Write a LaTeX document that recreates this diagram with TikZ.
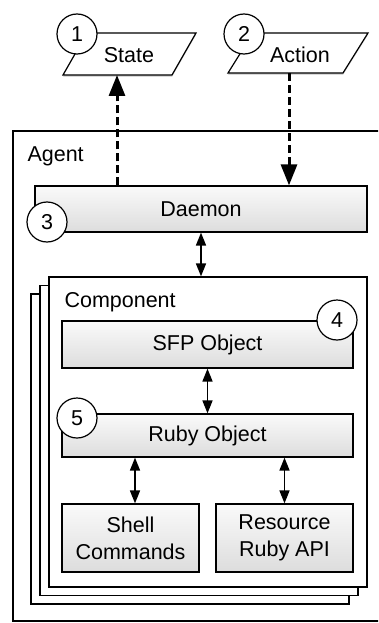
\documentclass[tikz,border=0pt]{standalone}
\usepackage{fontspec}
\setmainfont{Liberation Sans}
\usetikzlibrary{arrows.meta,calc}

\tikzset{
  every node/.style={font=\fontsize{21.5}{27}\selectfont},
  shadedbox/.style={draw=black, line width=1.2pt, top color=gray!4, bottom color=gray!27,
    inner sep=0pt, align=center},
  plainbox/.style={draw=black, line width=1.2pt, fill=white, inner sep=0pt},
  para/.style={draw=black, line width=1.2pt, fill=white},
  parashadow/.style={fill=black!15, draw=none},
  badge/.style={circle, draw=black, line width=1.2pt, fill=white, minimum size=40pt, inner sep=0pt},
  flow/.style={line width=3pt, dash pattern=on 8pt off 4pt,
    -{Triangle[length=21pt,width=16pt]}},
  link/.style={line width=1.5pt,
    {Triangle[length=13pt,width=10pt]}-{Triangle[length=13pt,width=10pt]}},
}

\begin{document}
\begin{tikzpicture}[x=1pt,y=-1pt]
\useasboundingbox (0,0) rectangle (378,623);
\clip (0,0) rectangle (378,623);

% agent frame
\draw[line width=1.2pt] (13,131) rectangle (390,621);
\node[anchor=base west] (agentlbl) at (24,161) {Agent};

% external state / action parallelograms
\fill[parashadow] (63,77) -- (87,35) -- (196,35) -- (172,77) -- cycle;
\draw[para] (63,75) -- (87,33) -- (196,33) -- (172,75) -- cycle;
\node (state) at (129,55) {State};
\coordinate (stateb) at (117,75);

\fill[parashadow] (228,75) -- (253,35) -- (368,35) -- (343,75) -- cycle;
\draw[para] (228,73) -- (253,33) -- (368,33) -- (343,73) -- cycle;
\node (action) at (300,55) {Action};
\coordinate (actionb) at (289,73);

% daemon
\node[shadedbox, minimum width=332pt, minimum height=46pt] (daemon) at (201,209) {Daemon};

% stacked components
\node[plainbox, minimum width=318pt, minimum height=310pt] (comp3) at (190,449) {};
\node[plainbox, minimum width=318pt, minimum height=310pt] (comp2) at (199,440.5) {};
\node[plainbox, minimum width=318pt, minimum height=310pt] (comp) at (208,432) {};
\node[anchor=base west] (complbl) at (61,307) {Component};

% objects inside the component
\node[shadedbox, minimum width=291pt, minimum height=47pt] (sfp) at (207.5,344.5) {SFP Object};
\node[shadedbox, minimum width=291pt, minimum height=43pt] (ruby) at (207.5,435.5) {Ruby Object};
\node[shadedbox, minimum width=137pt, minimum height=68pt] (shell) at (130.5,538) {Shell\\Commands};
\node[shadedbox, minimum width=137pt, minimum height=68pt] (res) at (284.5,538) {Resource\\Ruby API};

% connectors
\draw[flow] (daemon.north -| stateb) -- (stateb);
\draw[flow] (actionb) -- (daemon.north -| actionb);
\draw[link] (daemon.south) -- (daemon.south |- comp.north);
\draw[link] (sfp.south) -- (ruby.north);
\coordinate (shelltop) at ($(shell.north)+(4.5,0)$);
\draw[link] (ruby.south -| shelltop) -- (shelltop);
\draw[link] (ruby.south -| res.north) -- (res.north);

% numbered badges
\node[badge] (n1) at (77,34) {1};
\node[badge] (n2) at (244,34) {2};
\node[badge] (n3) at (47,222) {3};
\node[badge] (n4) at (337,320) {4};
\node[badge] (n5) at (77,418) {5};
\end{tikzpicture}
\end{document}
